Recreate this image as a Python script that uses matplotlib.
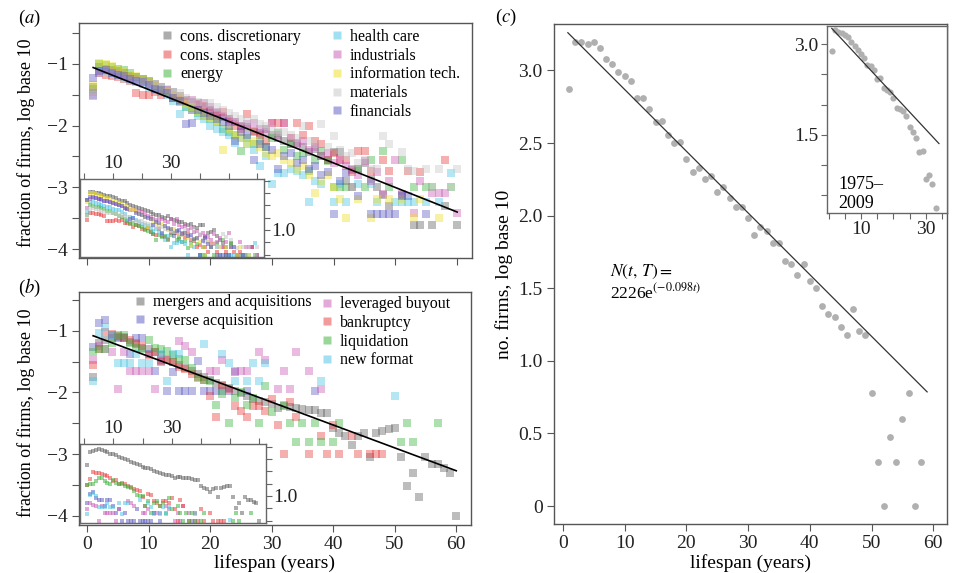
import numpy as np
import matplotlib
matplotlib.use('Agg')
import matplotlib.pyplot as plt
from matplotlib.lines import Line2D

plt.rcParams['font.family'] = ['Liberation Serif', 'DejaVu Serif']
plt.rcParams['mathtext.fontset'] = 'stix'

N = None

# ---- panel (a): fraction of firms by sector, log10, lifespan 1..60 ----
years_ab = list(range(1, 61))
sector_names = ['cons. discretionary', 'cons. staples', 'energy', 'health care',
                'industrials', 'information tech.', 'materials', 'financials']
cons_disc = [-1.38, -1.05, -1.08, -1.10, -1.12, -1.15, -1.20, -1.22, -1.25, -1.28,
             -1.33, -1.38, -1.42, -1.45, -1.52, -1.58, -1.62, -1.66, -1.70, -1.75,
             -1.80, -1.86, -1.90, -1.95, -2.00, -2.02, -2.08, -2.12, -2.06, -2.15,
             -2.20, -2.25, -2.30, -2.28, -2.35, -2.42, -2.38, -2.50, -2.55, -2.42,
             -2.42, -2.90, -2.72, -2.70, -2.60, -2.86, -3.00, -3.13, -3.31, N,
             -3.13, N, -3.61, -3.61, N, -3.61, N, -3.31, N, -3.61]
cons_staples = [-1.45, -1.15, -1.18, -1.20, -1.22, -1.25, -1.28, -1.48, -1.50, -1.50,
                -1.45, -1.50, -1.45, -1.55, -1.58, -1.62, -1.75, -1.65, -1.68, -1.80,
                -1.85, -1.78, -1.95, -2.00, -2.05, -1.82, -2.10, -2.15, -2.25, -1.96,
                -1.96, -1.96, -2.20, -1.96, -2.15, -2.00, -2.25, -2.30, -2.55, -2.45,
                -2.55, -2.55, -2.75, -2.41, -2.41, -2.74, N, -2.55, -2.74, N,
                N, -2.74, N, -2.75, N, N, N, -2.56, N, N]
energy = [-1.40, -1.00, -1.02, -1.05, -1.08, -1.10, -1.15, -1.22, -1.25, -1.30,
          -1.35, -1.42, -1.48, -1.55, -1.62, -1.70, -1.72, -1.80, -1.85, -1.90,
          -1.95, -2.05, -2.10, -2.15, -2.41, -2.20, -2.30, -2.25, -2.35, -2.20,
          -2.12, -2.40, -2.30, -2.50, -2.45, -2.74, -2.55, -2.41, -2.57, -3.00,
          -3.00, -3.00, N, -2.70, -3.00, -2.55, N, -2.41, -3.00, N,
          -2.55, N, -3.00, N, -3.00, -3.00, N, N, -3.00, N]
health_care = [-1.50, -1.10, -1.12, -1.15, -1.18, -1.22, -1.25, -1.30, -1.32, -1.38,
               -1.42, -1.45, -1.50, -1.60, -1.82, -1.70, -1.75, -1.85, -1.90, -2.00,
               -2.05, -2.10, -2.15, -2.28, -2.20, -2.30, -2.40, -2.66, -2.50, -2.95,
               -2.76, -2.76, -2.70, -2.74, -2.80, -3.24, -2.90, -2.95, N, -3.24,
               -2.95, -3.24, N, -2.95, N, -2.95, -3.24, N, N, -3.24,
               -3.24, -3.24, -3.24, N, -3.24, N, -3.24, N, -2.76, N]
industrials = [-1.52, -1.15, -1.10, -1.12, -1.15, -1.18, -1.22, -1.25, -1.28, -1.32,
               -1.36, -1.40, -1.42, -1.50, -1.55, -1.60, -1.58, -1.63, -1.63, -1.70,
               -1.78, -1.85, -1.90, -1.95, -2.00, -1.98, -1.96, -2.05, -2.10, -1.96,
               -2.15, -1.96, -2.20, -2.30, -2.25, -2.40, -2.35, -2.50, -2.45, -2.60,
               -2.55, -2.65, -2.70, -2.80, -2.57, -2.90, -2.75, -3.11, -2.90, -2.55,
               -3.11, N, -3.41, -2.90, N, -3.09, -3.09, -3.09, N, -3.41]
info_tech = [-1.35, -0.98, -1.00, -1.03, -1.08, -1.12, -1.18, -1.20, -1.25, -1.30,
             -1.35, -1.40, -1.45, -1.50, -1.55, -1.65, -1.70, -1.78, -1.85, -1.88,
             -1.95, -2.39, -2.05, -2.15, -2.20, -2.30, -2.25, -2.35, -2.45, -2.50,
             -2.45, -2.55, -2.60, -2.70, -2.65, -2.80, -3.09, -2.90, -2.80, -3.00,
             -3.19, -3.49, -3.00, -3.19, N, -3.49, -3.19, N, -3.19, N,
             -3.19, N, -3.49, -3.19, N, N, -3.49, N, N, N]
materials = [-1.45, -1.15, -1.12, -1.15, -1.20, -1.25, -1.28, -1.30, -1.30, -1.32,
             -1.35, -1.38, -1.40, -1.45, -1.48, -1.55, -1.60, -1.62, -1.65, -1.63,
             -1.70, -1.75, -1.80, -1.85, -1.90, -1.92, -1.90, -1.98, -2.00, -2.05,
             -2.10, -2.10, -2.15, -2.20, -2.00, -2.25, -2.30, -1.98, -2.35, -2.17,
             -2.40, -2.50, -2.45, -2.60, -2.55, -2.70, -2.70, -2.17, -2.30, N,
             -2.42, -2.70, -2.74, N, -2.70, -3.00, -2.70, N, -3.00, -2.70]
financials = [-1.23, -1.12, -1.10, -1.15, -1.18, -1.20, -1.25, -1.28, -1.30, -1.35,
              -1.40, -1.42, -1.48, -1.55, -1.60, -1.98, -1.96, -1.75, -1.80, -1.85,
              -1.90, -1.95, -2.00, -2.25, -2.10, -2.15, -2.55, -2.30, -2.35, -2.40,
              -2.70, -2.50, -2.45, -2.60, -2.55, -2.70, -2.65, -2.80, -2.75, -3.44,
              -2.90, -2.76, -3.00, -3.14, N, -3.44, -3.44, -3.44, -3.44, -3.44,
              -3.14, -3.14, N, N, -3.44, N, N, N, N, N]
# log10 of the number of firms in each sector (inset shows log10 counts)
sector_log_size = [3.61, 2.85, 3.00, 3.24, 3.41, 3.49, 3.00, 3.44]
fit_a_x = [1, 60]
fit_a_y = [-1.06, -3.40]

# ---- panel (b): by cause of delisting ----
cause_names = ['mergers and acquisitions', 'reverse acquisition', 'leveraged buyout',
               'bankruptcy', 'liquidation', 'new format']
mergers = [-1.75, -1.20, -1.15, -1.12, -1.10, -1.12, -1.18, -1.22, -1.28, -1.30,
           -1.35, -1.40, -1.45, -1.50, -1.55, -1.60, -1.65, -1.70, -1.75, -1.80,
           -1.85, -1.88, -1.92, -1.98, -2.01, -2.05, -2.10, -2.14, -2.15, -2.18,
           -2.25, -2.22, -2.24, -2.25, -2.27, -2.28, -2.29, -2.33, -2.33, -2.58,
           -2.66, -2.71, -2.85, -2.71, -2.66, -3.04, -2.66, -2.62, -2.60, -2.58,
           -3.04, -3.51, -3.30, -3.70, -3.04, -3.16, -3.16, -3.23, -3.30, -4.00]
reverse_acq = [-1.27, -0.88, -0.82, -1.07, -1.12, -1.12, -1.37, -1.12, -1.12, -1.37,
               -1.65, -1.49, -1.97, -1.67, -1.97, -1.97, -1.97, -1.49, -1.97, -1.97,
               -1.97, -1.97, -1.97, -1.67, N, -1.97, N, N, N, N,
               N, N, N, N, N, N, -1.97, N, N, N,
               N, N, N, N, N, N, N, N, N, N,
               N, N, N, N, N, N, N, N, N, N]
leveraged = [-1.47, -1.25, -1.30, -1.35, -1.95, -1.35, -1.65, -1.65, -1.65, -1.65,
             -1.95, -1.47, N, N, -1.17, -1.25, -1.35, N, N, -1.65,
             -1.65, -1.47, N, -1.65, -1.65, -1.65, N, -1.35, -1.47, N,
             -1.95, -1.65, -1.95, -1.35, N, -1.65, N, -1.95, N, N,
             N, N, N, N, N, N, N, N, N, N,
             N, N, N, N, N, N, N, N, N, N]
bankruptcy = [-1.55, -1.30, -1.02, -1.05, -1.08, -1.10, -1.15, -1.20, -1.25, -1.40,
              -1.35, -1.50, -1.47, -1.50, -1.58, -1.62, -1.70, -1.75, -1.80, -2.05,
              -2.40, -1.90, -1.95, -2.22, -2.30, -2.40, -2.22, -2.22, -2.30, -2.10,
              -2.52, -3.00, -2.15, -2.40, N, -3.00, N, -2.70, -3.00, -2.52,
              -3.00, N, -2.70, -3.00, N, -3.00, -3.00, -3.00, N, N,
              N, N, N, N, N, N, N, N, N, N]
liquidation = [-1.35, -1.30, -1.30, -1.20, -1.07, -1.07, -1.20, -1.28, -1.30, -1.15,
               -1.28, -1.30, -1.33, -1.40, -1.45, -1.47, -1.60, -1.77, -1.80, -1.82,
               -2.20, -2.02, -2.50, -2.09, -2.00, -2.20, -2.09, -2.50, -1.90, -2.32,
               N, -2.20, -2.50, -2.80, -2.50, -2.80, -2.50, -2.80, N, -2.80,
               -2.50, N, N, N, N, N, N, N, N, N,
               -2.80, -2.50, -2.80, N, N, N, -2.50, N, N, N]
new_format = [-1.82, -1.04, -0.93, -1.07, -1.52, -1.52, -1.52, -1.37, -1.52, -1.52,
              N, -1.37, -1.82, -1.37, -1.37, N, N, N, -1.22, N,
              N, -1.37, -1.52, -1.82, N, -1.82, -1.52, -1.82, -1.52, N,
              N, N, N, N, N, N, N, -1.82, N, N,
              N, N, N, N, N, N, N, N, N, -2.06,
              N, N, N, N, N, N, N, N, N, N]
cause_log_size = [4.00, 1.97, 1.95, 3.00, 2.80, 2.07]
fit_b_x = [1, 60]
fit_b_y = [-1.08, -3.27]

# ---- panel (c): number of firms, log10 ----
years_c = list(range(1, 59))
firms_c = [2.87, 3.195, 3.195, 3.18, 3.195, 3.156, 3.08, 3.046, 2.99, 2.965,
           2.93, 2.81, 2.81, 2.735, 2.645, 2.655, 2.554, 2.50, 2.51, 2.39,
           2.30, 2.33, 2.25, 2.27, 2.16, 2.195, 2.124, 2.062, 2.062, 1.984,
           1.87, 1.924, 1.894, 1.814, 1.814, 1.69, 1.667, 1.59, 1.667, 1.552,
           1.50, 1.38, 1.32, 1.30, 1.23, 1.175, 1.36, 1.205, 1.175, 0.777,
           0.30, 0.0, 0.477, 0.30, 0.60, 0.777, 0.0, 0.30]
fit_c_x = [0.8, 59]
fit_c_y = [3.26, 0.786]
years_c_inset = list(range(1, 34))
firms_c_inset = [2.88, 3.23, 3.20, 3.18, 3.15, 3.12, 3.04, 2.97, 2.90, 2.84,
                 2.77, 2.65, 2.64, 2.57, 2.43, 2.44, 2.28, 2.24, 2.20, 2.11,
                 1.95, 1.92, 1.89, 1.81, 1.63, 1.55, 1.45, 1.22, 1.23, 0.77,
                 0.84, 0.69, 0.29]
fit_ci_x = [1, 34]
fit_ci_y = [3.26, 1.355]

sector_series = [cons_disc, cons_staples, energy, health_care,
                 industrials, info_tech, materials, financials]
sector_colors = ['#5a5a5a', '#e83838', '#35b035', '#45c3e3',
                 '#c856b4', '#eedc1a', '#c4c4c4', '#5656c2']
cause_series = [mergers, reverse_acq, leveraged, bankruptcy, liquidation, new_format]
cause_colors = ['#5a5a5a', '#5656c2', '#c856b4', '#e83838', '#35b035', '#45c3e3']
ALPHA = 0.4
MINUS = '\u2212'
TICK_FS = 14
LABEL_FS = 14

fig = plt.figure(figsize=(9.55, 5.73), dpi=100)
ax_a = fig.add_axes([0.0827, 0.5497, 0.4115, 0.410])
ax_b = fig.add_axes([0.0827, 0.0838, 0.4105, 0.4066])
ax_c = fig.add_axes([0.580, 0.0855, 0.4115, 0.8726])


def frame(ax, col='#555555'):
    for s in ax.spines.values():
        s.set_color(col)
        s.set_linewidth(1.0)
    ax.tick_params(direction='out', length=5, width=0.8, color=col,
                   labelsize=TICK_FS, pad=3, labelcolor='#222222')


def square_handles(colors):
    return [Line2D([], [], ls='', marker='s', ms=5.2, mec='none', mfc=c, alpha=0.5)
            for c in colors]


legend_kw = dict(loc='upper left', frameon=False, fontsize=11.5, handlelength=0.8,
                 handletextpad=0.4, labelspacing=0.17, borderpad=0, borderaxespad=0)

yt = [-4, -3.5, -3, -2.5, -2, -1.5, -1, -0.5]
ytl = [MINUS + '4', '', MINUS + '3', '', MINUS + '2', '', MINUS + '1', '']

# panel a
yrs = np.array(years_ab)
for vals, col in zip(sector_series, sector_colors):
    ax_a.scatter(yrs, np.array(vals, dtype=float), s=30, marker='s', color=col,
                 alpha=ALPHA, linewidths=0, zorder=2)
ax_a.plot(fit_a_x, fit_a_y, color='black', lw=1.2, zorder=3)
ax_a.set_xlim(-1.3, 62.4)
ax_a.set_ylim(-4.145, -0.34)
ax_a.set_xticks(range(0, 61, 10))
ax_a.set_xticklabels([])
ax_a.set_yticks(yt)
ax_a.set_yticklabels(ytl)
frame(ax_a)
ax_a.set_ylabel('fraction of firms, log base 10', fontsize=13)
ax_a.yaxis.set_label_coords(-0.112, 0.49)
h = square_handles(sector_colors)
leg1 = ax_a.legend(h[:3], sector_names[:3], bbox_to_anchor=(0.208, 0.975), **legend_kw)
ax_a.add_artist(leg1)
ax_a.legend(h[3:], sector_names[3:], bbox_to_anchor=(0.640, 0.975), **legend_kw)

# panel b
for vals, col in zip(cause_series, cause_colors):
    ax_b.scatter(yrs, np.array(vals, dtype=float), s=30, marker='s', color=col,
                 alpha=ALPHA, linewidths=0, zorder=2)
ax_b.plot(fit_b_x, fit_b_y, color='black', lw=1.2, zorder=3)
ax_b.set_xlim(-1.3, 62.4)
ax_b.set_ylim(-4.15, -0.37)
ax_b.set_xticks(range(0, 61, 10))
ax_b.set_yticks(yt)
ax_b.set_yticklabels(ytl)
frame(ax_b)
ax_b.set_ylabel('fraction of firms, log base 10', fontsize=13)
ax_b.yaxis.set_label_coords(-0.112, 0.48)
ax_b.set_xlabel('lifespan (years)', fontsize=LABEL_FS)
ax_b.xaxis.set_label_coords(0.5, -0.125)
h = square_handles(cause_colors)
leg1 = ax_b.legend(h[:2], cause_names[:2], bbox_to_anchor=(0.139, 0.99), **legend_kw)
ax_b.add_artist(leg1)
ax_b.legend(h[2:], cause_names[2:], bbox_to_anchor=(0.616, 0.982), **legend_kw)


# insets of a and b: log10 counts
def count_inset(rect, series, colors, sizes, ytop):
    ins = fig.add_axes(rect)
    ins.set_facecolor('white')
    for vals, col, ls in zip(series, colors, sizes):
        ins.scatter(yrs, np.array(vals, dtype=float) + ls, s=6, marker='s', color=col,
                    alpha=0.5, linewidths=0)
    ins.set_xlim(-1.4, 62.3)
    ins.set_ylim(-0.1, ytop)
    ins.xaxis.tick_top()
    ins.yaxis.tick_right()
    ins.set_xticks(range(0, 61, 10))
    ins.set_xticklabels(['', '10', '', '30', '', '', ''])
    ins.set_yticks([0, 0.5, 1.0, 1.5, 2.0, 2.5, 3.0])
    ins.set_yticklabels(['', '', '1.0', '', '', '', ''])
    frame(ins, '#666666')
    ins.tick_params(length=4, pad=1)
    return ins


count_inset([0.0838, 0.5515, 0.1927, 0.1361], sector_series, sector_colors,
            sector_log_size, 3.07)
count_inset([0.0838, 0.0873, 0.1948, 0.1379], cause_series, cause_colors,
            cause_log_size, 3.12)

# panel c
ax_c.scatter(years_c, firms_c, s=24, color='#b0b0b0', linewidths=0, zorder=2)
ax_c.plot(fit_c_x, fit_c_y, color='#333333', lw=0.9, zorder=3)
ax_c.set_xlim(-1.46, 62.2)
ax_c.set_ylim(-0.124, 3.32)
ax_c.set_xticks(range(0, 61, 10))
ax_c.set_yticks([0, 0.5, 1.0, 1.5, 2.0, 2.5, 3.0])
ax_c.set_yticklabels(['0', '0.5', '1.0', '1.5', '2.0', '2.5', '3.0'])
frame(ax_c)
ax_c.set_ylabel('no. firms, log base 10', fontsize=LABEL_FS)
ax_c.yaxis.set_label_coords(-0.104, 0.5)
ax_c.set_xlabel('lifespan (years)', fontsize=LABEL_FS)
ax_c.xaxis.set_label_coords(0.5, -0.06)
ax_c.text(7.6, 1.61, r'$N(t,\,T)=$', fontsize=12.5, va='center')
ax_c.text(7.6, 1.47, r'2226e$^{(-0.098t)}$', fontsize=12.5, va='center')

ins_c = fig.add_axes([0.866, 0.6283, 0.1257, 0.3264])
ins_c.scatter(years_c_inset, firms_c_inset, s=20, color='#b0b0b0', linewidths=0, zorder=2)
ins_c.plot(fit_ci_x, fit_ci_y, color='#333333', lw=0.9, zorder=3)
ins_c.set_xlim(-0.46, 36.5)
ins_c.set_ylim(0.207, 3.30)
ins_c.set_xticks(range(0, 36, 5))
ins_c.set_xticklabels(['', '', '10', '', '', '', '30', ''])
ins_c.set_yticks([0.5, 1.0, 1.5, 2.0, 2.5, 3.0])
ins_c.set_yticklabels(['', '', '1.5', '', '', '3.0'])
frame(ins_c, '#666666')
ins_c.tick_params(length=4, pad=2)
ins_c.text(2.9, 0.52, '1975\u2013\n2009', fontsize=13, va='center', linespacing=1.1)

# panel letters
fig.text(0.019, 0.967, r'($\mathit{a}$)', fontsize=13.5, va='center')
fig.text(0.019, 0.498, r'($\mathit{b}$)', fontsize=13.5, va='center')
fig.text(0.518, 0.970, r'($\mathit{c}$)', fontsize=13.5, va='center')

fig.savefig('out.png', dpi=100)
